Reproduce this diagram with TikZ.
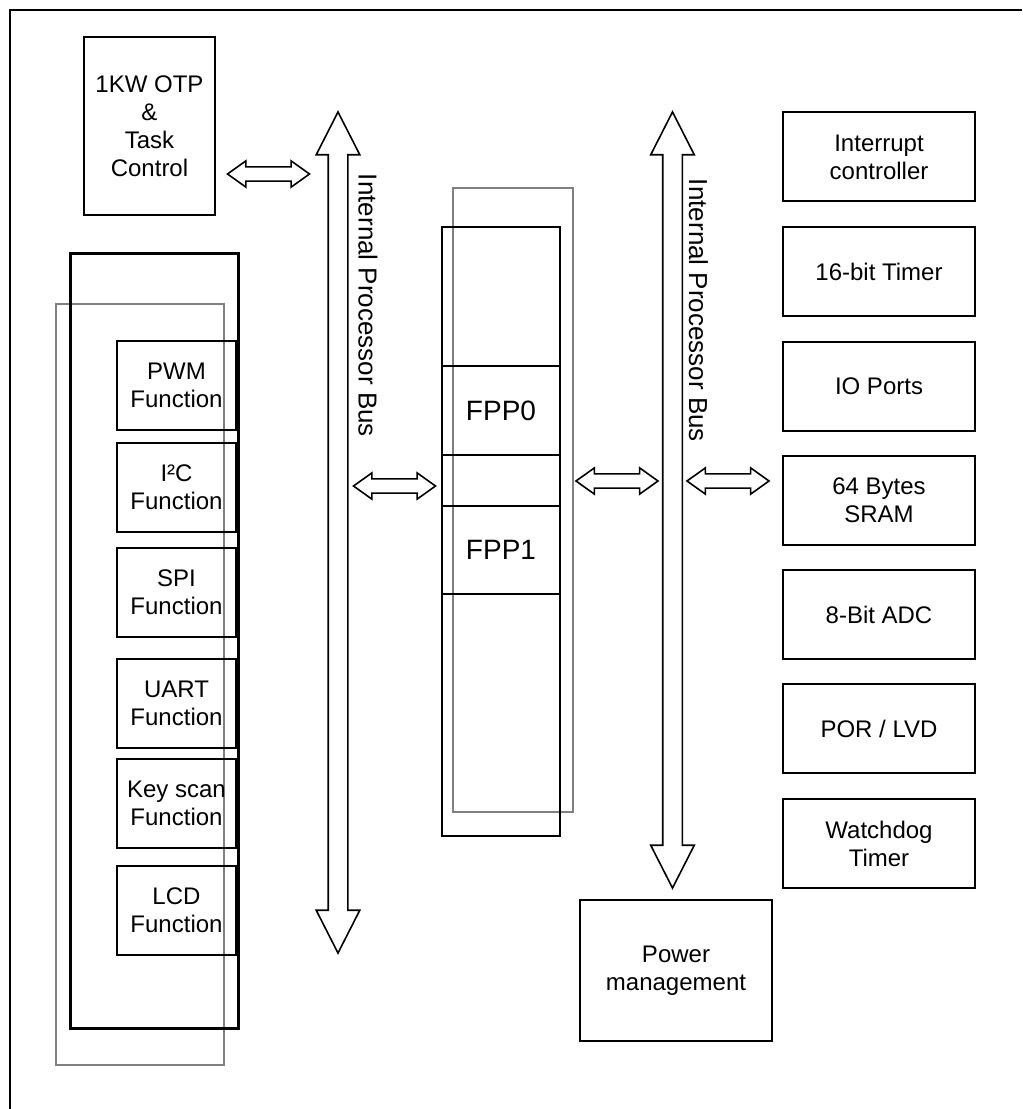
\documentclass[tikz,border=0pt]{standalone}
\usepackage{fontspec}
\setmainfont{Liberation Sans}
\usetikzlibrary{shapes.arrows}

\tikzset{
  blk/.style={draw, line width=1.5pt, align=center, inner sep=0pt,
    font=\fontsize{18}{21}\selectfont},
  fnblk/.style={blk, minimum width=89.25pt, minimum height=66.75pt},
  perblk/.style={blk, minimum width=144pt, minimum height=66.75pt},
  fppblk/.style={blk, minimum width=88.5pt, font=\fontsize{21}{25}\selectfont},
  busarrow/.style={draw, line width=1.2pt, double arrow, double arrow tip angle=54,
    double arrow head extend=9pt, minimum width=31.5pt, inner xsep=0pt, inner ysep=6.75pt,
    rotate=90},
  linkarrow/.style={draw, line width=1.2pt, double arrow, double arrow tip angle=71,
    double arrow head extend=4.5pt, minimum width=18.75pt, minimum height=61.5pt,
    inner xsep=0pt, inner ysep=4.7pt},
  buslabel/.style={rotate=-90, font=\fontsize{19.5}{23}\selectfont}
}

\begin{document}
\begin{tikzpicture}[x=0.75pt,y=-0.75pt]
    \useasboundingbox (0,0) rectangle (1022,1109);
    \draw[line width=1.5pt] (9.5,1109) -- (9.5,10.5) -- (1022,10.5);

    % program memory
    \node[blk, minimum width=98.25pt, minimum height=133.5pt] (otp) at (149.5,126)
        {1KW OTP\\\&\\Task\\Control};
    \node[linkarrow] (otplink) at (268.5,174) {};

    % peripheral functions
    \draw[gray, line width=1.5pt] (56,304) rectangle (224,1065);
    \draw[line width=2.25pt] (70,253) rectangle (238,1028);
    \node[fnblk] (pwm) at (176.5,385.5) {PWM\\Function};
    \node[fnblk] (iic) at (176.5,487.5) {I²C\\Function};
    \node[fnblk] (spi) at (176.5,592) {SPI\\Function};
    \node[fnblk] (uart) at (176.5,703.5) {UART\\Function};
    \node[fnblk] (keyscan) at (176.5,803.5) {Key scan\\Function};
    \node[fnblk] (lcd) at (176.5,910.5) {LCD\\Function};

    % buses
    \node[busarrow, minimum height=630.75pt] (lbus) at (338,532.5) {};
    \node[buslabel] (lbuslabel) at (368,305.5) {Internal Processor Bus};
    \node[busarrow, minimum height=582pt] (rbus) at (672.5,500) {};
    \node[buslabel] (rbuslabel) at (698.5,310.5) {Internal Processor Bus};

    % processors
    \draw[gray, line width=1.5pt] (453,188) rectangle (573,812);
    \draw[line width=1.5pt] (442,227) rectangle (560,836);
    \node[fppblk, minimum height=66.75pt] (fpp0) at (501,410.5) {FPP0};
    \node[fppblk, minimum height=66pt] (fpp1) at (501,550) {FPP1};
    \node[linkarrow] (cpulinkl) at (394.5,486) {};
    \node[linkarrow] (cpulinkr) at (617,481) {};
    \node[linkarrow] (perlink) at (728,481) {};

    % peripherals
    \node[perblk] (intc) at (879,157) {Interrupt\\controller};
    \node[perblk] (tmr) at (879,271.5) {16-bit Timer};
    \node[perblk] (iop) at (879,386.5) {IO Ports};
    \node[perblk] (sram) at (879,500) {64 Bytes\\SRAM};
    \node[perblk] (adc) at (879,614.5) {8-Bit ADC};
    \node[perblk] (por) at (879,728.5) {POR / LVD};
    \node[perblk] (wdt) at (879,843.5) {Watchdog\\Timer};
    \node[blk, minimum width=144pt, minimum height=105.75pt] (pwr) at (676,970.5)
        {Power\\management};
\end{tikzpicture}
\end{document}
